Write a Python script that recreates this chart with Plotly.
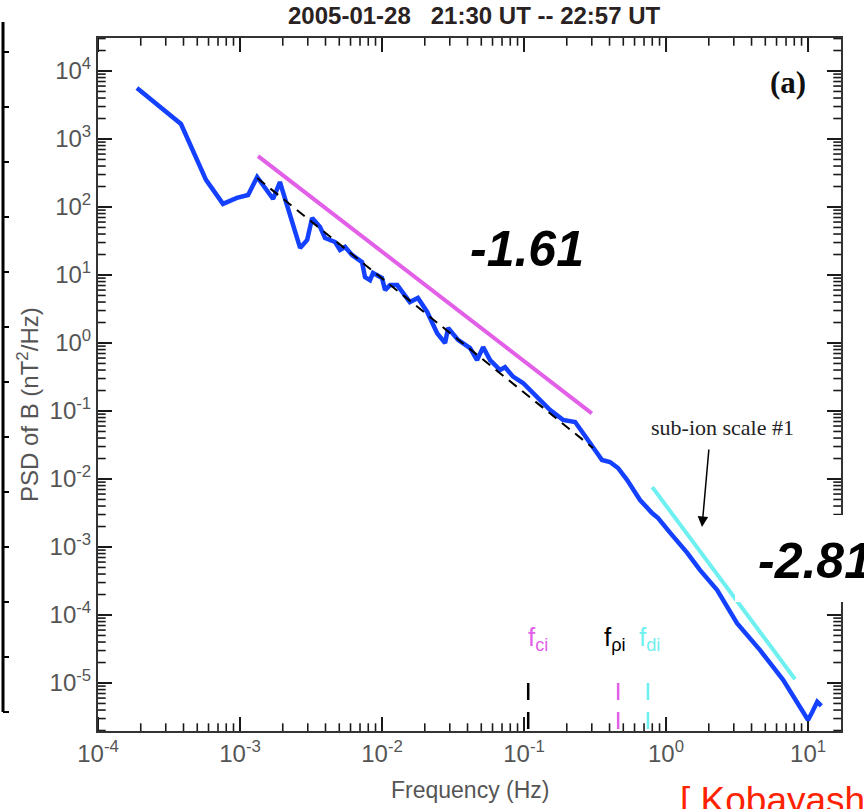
import numpy as np
import plotly.graph_objects as go

# ---- Data -------------------------------------------------------------
# Power spectral density of the magnetic field, 2005-01-28 21:30-22:57 UT
freq_hz = [1.88e-4, 3.84e-4, 5.76e-4, 7.59e-4, 9.5e-4, 1.14e-3, 1.32e-3, 1.71e-3, 1.91e-3,
           2.65e-3, 2.97e-3, 3.22e-3, 3.66e-3, 3.97e-3, 4.67e-3, 5.06e-3, 5.49e-3, 6.15e-3,
           7.23e-3, 7.59e-3, 8.23e-3, 8.64e-3, 1.0e-2, 1.05e-2, 1.14e-2, 1.28e-2, 1.57e-2,
           1.79e-2, 2.08e-2, 2.44e-2, 2.78e-2, 2.92e-2, 3.43e-2, 4.17e-2, 4.67e-2, 5.15e-2,
           5.77e-2, 6.78e-2, 7.35e-2, 8.37e-2, 9.84e-2, 0.116, 0.130, 0.152, 0.188, 0.229,
           0.260, 0.306, 0.354, 0.403, 0.459, 0.531, 0.656, 0.797, 0.879, 1.07, 1.41, 1.73,
           2.29, 3.16, 4.59, 6.67, 10.0, 10.7, 11.6, 12.4]
psd_nt2_hz = [5600, 1660, 250, 111, 136, 150, 276, 131, 233,
              25, 32.7, 69, 51, 35, 30.6, 23.3, 25.8, 19.7,
              15.5, 9.3, 8.4, 10.7, 9.0, 6.0, 7.1, 7.1, 4.0,
              4.6, 2.86, 1.40, 1.0, 1.66, 1.11, 0.84, 0.56, 0.87,
              0.56, 0.40, 0.44, 0.32, 0.258, 0.184, 0.145, 0.104, 0.074, 0.069,
              0.0475, 0.0296, 0.0190, 0.0178, 0.0145, 9.7e-3, 4.9e-3, 3.16e-3, 2.67e-3, 1.61e-3, 8.2e-4, 4.6e-4,
              2.33e-4, 7.6e-5, 3.05e-5, 1.11e-5, 2.86e-6, 3.75e-6, 5.3e-6, 4.6e-6]

# Least-squares fit over the inertial range (dashed)
fit_freq = [1.32e-3, 0.306]
fit_psd = [267, 0.0286]

# Reference power laws
inertial_slope = -1.61
inertial_freq = [1.34e-3, 0.30]
inertial_ref_psd = 560.0
subion_slope = -2.81
subion_freq = [0.80, 8.1]
subion_ref_psd = 7.6e-3

# Characteristic frequencies
char_freq = [0.107, 0.46, 0.746]
char_labels = ["f<sub>ci</sub>", "f<sub>ρi</sub>", "f<sub>di</sub>"]

x_major = [1e-4, 1e-3, 1e-2, 1e-1, 1e0, 1e1]
x_major_text = ["10<sup>-4</sup>", "10<sup>-3</sup>", "10<sup>-2</sup>",
                "10<sup>-1</sup>", "10<sup>0</sup>", "10<sup>1</sup>"]
y_major = [1e-5, 1e-4, 1e-3, 1e-2, 1e-1, 1e0, 1e1, 1e2, 1e3, 1e4]
y_major_text = ["10<sup>-5</sup>", "10<sup>-4</sup>", "10<sup>-3</sup>", "10<sup>-2</sup>",
                "10<sup>-1</sup>", "10<sup>0</sup>", "10<sup>1</sup>", "10<sup>2</sup>",
                "10<sup>3</sup>", "10<sup>4</sup>"]

# ---- Styling ----------------------------------------------------------
BLUE = "#1440ff"
MAGENTA = "#e25fe8"
CYAN = "#6ef0f0"
AXIS = "#333333"
TICK = "#1a1a1a"
LABEL = "#555555"
NARROW = "Liberation Sans Narrow, Arial Narrow, Liberation Sans, Arial, sans-serif"
SANS = "Liberation Sans, Arial, Helvetica, sans-serif"
SERIF = "Liberation Serif, Times New Roman, serif"

W, H = 864, 809
PL, PR, PT, PB = 98, 841, 38, 731  # plot frame in pixels
PW, PH = PR - PL, PB - PT


def px(xp):
    return (xp - PL) / PW


def py(yp):
    return (PB - yp) / PH


def minor_log(lo_exp, hi_exp, lo, hi):
    vals = []
    for e in range(lo_exp, hi_exp + 1):
        for d in range(2, 10):
            v = d * 10.0 ** e
            if lo <= v <= hi:
                vals.append(v)
    return vals


def note(xp, yp, text, font, **kw):
    d = dict(x=px(xp), y=py(yp), xref="paper", yref="paper", text=text,
             showarrow=False, xanchor="center", yanchor="middle", font=font)
    d.update(kw)
    return d


x_range = [-4.0, 1.232]
y_range = [-5.706, 4.485]
x_minor = minor_log(-4, 1, 1e-4, 17)
y_minor = minor_log(-6, 4, 2e-6, 3.1e4)

fig = go.Figure()

# inward tick marks: line-shaped markers centred on the frame edges,
# the outer half is clipped away by the plot area
x_lo, x_hi = 10 ** x_range[0], 10 ** x_range[1]
y_lo, y_hi = 10 ** y_range[0], 10 ** y_range[1]
for vals, size, w in [(x_major, 20, 2.0), (x_minor, 11, 1.6)]:
    fig.add_trace(go.Scatter(
        x=list(vals) * 2, y=[y_lo] * len(vals) + [y_hi] * len(vals), mode="markers",
        marker=dict(symbol="line-ns", size=size, line=dict(color=TICK, width=w)),
        cliponaxis=True, hoverinfo="skip", showlegend=False))
for vals, size, w in [(y_major, 20, 2.0), (y_minor, 11, 1.6)]:
    fig.add_trace(go.Scatter(
        x=[x_lo] * len(vals) + [x_hi] * len(vals), y=list(vals) * 2, mode="markers",
        marker=dict(symbol="line-ew", size=size, line=dict(color=TICK, width=w)),
        cliponaxis=True, hoverinfo="skip", showlegend=False))

# power-law guide lines
f_in = np.array(inertial_freq)
fig.add_trace(go.Scatter(
    x=f_in, y=inertial_ref_psd * (f_in / f_in[0]) ** inertial_slope,
    mode="lines", line=dict(color=MAGENTA, width=4), showlegend=False))
f_sub = np.array(subion_freq)
fig.add_trace(go.Scatter(
    x=f_sub, y=subion_ref_psd * (f_sub / f_sub[0]) ** subion_slope,
    mode="lines", line=dict(color=CYAN, width=4), showlegend=False))

# spectrum
fig.add_trace(go.Scatter(x=freq_hz, y=psd_nt2_hz, mode="lines",
                         line=dict(color=BLUE, width=4.5), showlegend=False))

# fit
fig.add_trace(go.Scatter(x=fit_freq, y=fit_psd, mode="lines",
                         line=dict(color="black", width=2, dash="10px,7px"),
                         showlegend=False))

# characteristic-frequency markers
marker_colors = ["black", MAGENTA, CYAN]
label_colors = [MAGENTA, "black", CYAN]
label_shift = [10, -3, 2]
for f, mc in zip(char_freq, marker_colors):
    fig.add_trace(go.Scatter(x=[f, f], y=[1.0e-5, y_lo], mode="lines",
                             line=dict(color=mc, width=2.5, dash="17px,12px"),
                             showlegend=False))

annotations = []
for f, lab, lc, sh in zip(char_freq, char_labels, label_colors, label_shift):
    annotations.append(dict(x=np.log10(f), y=py(638), xref="x", yref="paper",
                            text=lab, showarrow=False, xshift=sh,
                            xanchor="center", yanchor="middle",
                            font=dict(family=SANS, size=26, color=lc)))

annotations += [
    note(475, 16, "2005-01-28   21:30 UT -- 22:57 UT",
         dict(family=NARROW, size=24, color="#2a2222", weight="bold")),
    note(788, 82, "(a)", dict(family=SERIF, size=31, color="#111", weight="bold")),
    note(527, 249, "-1.61",
         dict(family=SANS, size=50, color="black", weight="bold", style="italic")),
    note(756, 561, "-2.81",
         dict(family=SANS, size=50, color="black", weight="bold", style="italic"),
         xanchor="left"),
    note(722, 427, "sub-ion scale #1", dict(family=SERIF, size=22, color="#222")),
    note(470, 790, "Frequency (Hz)", dict(family=SANS, size=23, color=LABEL)),
    note(28, 405, "PSD of B (nT<sup>2</sup>/Hz)", dict(family=SANS, size=24, color=LABEL),
         textangle=-90),
    note(678, 778, "[ Kobayashi", dict(family=SANS, size=37, color="#ff2200"),
         xanchor="left", yanchor="top"),
    dict(x=px(702), y=py(527), xref="paper", yref="paper", showarrow=True,
         text="", ax=7, ay=-79, arrowhead=2, arrowsize=1.4, arrowwidth=1.5,
         arrowcolor="black"),
]

shapes = [
    # white box behind the sub-ion slope value
    dict(type="rect", xref="paper", yref="paper", x0=px(735), x1=px(880),
         y0=py(602), y1=py(515), fillcolor="white", line=dict(width=0), layer="above"),
    # frame edge of the neighbouring panel
    dict(type="line", xref="paper", yref="paper", x0=px(3), x1=px(3),
         y0=py(712), y1=py(22), line=dict(color="black", width=3)),
]
for k in range(13):
    yy = 52 + 55 * k
    shapes.append(dict(type="line", xref="paper", yref="paper", x0=px(3), x1=px(9),
                       y0=py(yy), y1=py(yy), line=dict(color="black", width=2)))

axis_common = dict(
    type="log", showgrid=False, zeroline=False, showline=True,
    linecolor=AXIS, linewidth=2, mirror="allticks",
    ticks="inside", ticklen=10, tickwidth=2, tickcolor=TICK,
    tickmode="array", tickfont=dict(family=NARROW, size=24, color=LABEL),
)

fig.update_layout(
    width=W, height=H,
    margin=dict(l=PL, r=W - PR, t=PT, b=H - PB, autoexpand=False),
    paper_bgcolor="white", plot_bgcolor="white",
    xaxis=dict(axis_common, range=x_range, tickvals=x_major, ticktext=x_major_text),
    yaxis=dict(axis_common, range=y_range, tickvals=y_major, ticktext=y_major_text),
    annotations=annotations,
    shapes=shapes,
    showlegend=False,
)

fig.write_html("out.html")
